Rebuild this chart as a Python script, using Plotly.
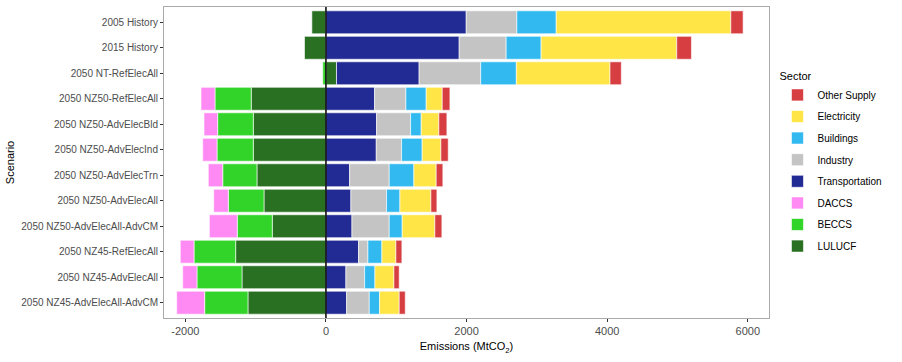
import plotly.graph_objects as go

scenarios = ["2005 History", "2015 History", "2050 NT-RefElecAll", "2050 NZ50-RefElecAll",
             "2050 NZ50-AdvElecBld", "2050 NZ50-AdvElecInd", "2050 NZ50-AdvElecTrn",
             "2050 NZ50-AdvElecAll", "2050 NZ50-AdvElecAll-AdvCM", "2050 NZ45-RefElecAll",
             "2050 NZ45-AdvElecAll", "2050 NZ45-AdvElecAll-AdvCM"]

lulucf = [-200, -305, 150, -1062, -1033, -1033, -981, -881, -763, -1284, -1194, -1109]
beccs = [0, 0, -45, -516, -507, -516, -487, -507, -498, -592, -640, -616]
daccs = [0, 0, 0, -199, -194, -204, -205, -208, -397, -195, -203, -398]
transportation = [1995, 1895, 1175, 692, 720, 716, 337, 355, 370, 464, 284, 294]
industry = [720, 668, 876, 445, 484, 360, 563, 507, 530, 133, 266, 322]
buildings = [560, 497, 507, 289, 151, 293, 351, 190, 185, 199, 147, 147]
electricity = [2483, 1929, 1332, 228, 251, 266, 317, 441, 464, 199, 270, 279]
other_supply = [175, 209, 161, 109, 114, 104, 95, 85, 100, 85, 75, 86]

# stacking order from zero outward; legend shows them in reverse
series = [
    ("LULUCF", lulucf, "#2A7022"),
    ("BECCS", beccs, "#33D42A"),
    ("DACCS", daccs, "#FF8AF4"),
    ("Transportation", transportation, "#222A93"),
    ("Industry", industry, "#C4C4C4"),
    ("Buildings", buildings, "#32BAF0"),
    ("Electricity", electricity, "#FFE546"),
    ("Other Supply", other_supply, "#D63E42"),
]

fig = go.Figure()
n = len(series)
for i, (name, vals, col) in enumerate(series):
    fig.add_trace(go.Bar(
        y=scenarios, x=vals, name=name, orientation="h", legendgroup=name,
        legendrank=1000 + (n - i),
        marker=dict(color=col, line=dict(color="white", width=0.6)),
    ))

fig.add_vline(x=0, line=dict(color="black", width=1.5))

font_family = "Liberation Sans, Arial, sans-serif"
fig.update_layout(
    barmode="relative",
    bargap=0.1,
    width=902, height=362,
    margin=dict(l=164, r=133, t=7, b=44),
    plot_bgcolor="white", paper_bgcolor="white",
    font=dict(family=font_family, size=11, color="#4D4D4D"),
    legend=dict(
        title=dict(text="Sector", font=dict(size=11, color="black")),
        traceorder="grouped",
        x=1.014, xanchor="left", y=0.81, yanchor="top",
        font=dict(size=10, color="black"),
        itemwidth=30,
        tracegroupgap=2.6,
    ),
    xaxis=dict(
        range=[-2303, 6301],
        tickvals=[-2000, 0, 2000, 4000, 6000],
        ticktext=["-2000", "0", "2000", "4000", "6000"],
        showgrid=False, zeroline=False, automargin=False,
        ticks="outside", ticklen=3, tickcolor="#333333",
        showline=True, linecolor="#AAAAAA", linewidth=1, mirror=True,
        title=dict(text="Emissions (MtCO<sub>2</sub>)", font=dict(size=11, color="black"), standoff=6),
        tickfont=dict(size=11, color="#4D4D4D"),
    ),
    yaxis=dict(
        autorange=False, range=[11.6, -0.6],
        categoryorder="array", categoryarray=scenarios,
        showgrid=False, zeroline=False, automargin=False,
        ticks="outside", ticklen=3, tickcolor="#333333",
        showline=True, linecolor="#AAAAAA", linewidth=1, mirror=True,
        title=dict(text="Scenario", font=dict(size=11, color="black"), standoff=4),
        tickfont=dict(size=10, color="#4D4D4D"),
    ),
)

fig.write_html("out.html", config={"displayModeBar": False},
               post_script="document.body.style.margin='0';document.body.style.overflow='hidden';")
